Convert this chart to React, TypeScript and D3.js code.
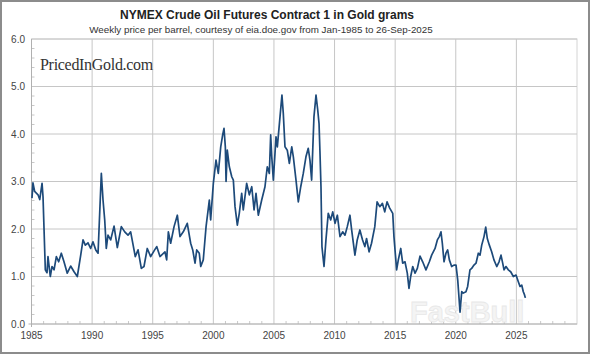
import React from "react";
import * as d3 from "d3";

const W = 590;
const H = 354;

const TITLE = "NYMEX Crude Oil Futures Contract 1 in Gold grams";
const SUBTITLE = "Weekly price per barrel, courtesy of eia.doe.gov from Jan-1985 to 26-Sep-2025";

const xTickYears = [1985, 1990, 1995, 2000, 2005, 2010, 2015, 2020, 2025];
const yTickValues = [0, 1, 2, 3, 4, 5, 6];

// decimal year
const dates = [
  1985.04, 1985.12, 1985.26, 1985.54, 1985.68, 1985.87, 1985.95, 1986.14, 1986.28, 1986.36,
  1986.55, 1986.69, 1986.86, 1987.05, 1987.24, 1987.46, 1987.68, 1987.95, 1988.23, 1988.51,
  1988.78, 1989.06, 1989.25, 1989.44, 1989.66, 1989.88, 1990.07, 1990.30, 1990.49, 1990.76,
  1990.90, 1991.04, 1991.17, 1991.31, 1991.53, 1991.81, 1992.08, 1992.41, 1992.69, 1992.96,
  1993.18, 1993.56, 1993.79, 1994.06, 1994.28, 1994.55, 1994.83, 1995.16, 1995.33, 1995.60,
  1996.01, 1996.15, 1996.29, 1996.48, 1996.76, 1997.03, 1997.25, 1997.52, 1997.85, 1998.13,
  1998.30, 1998.49, 1998.63, 1998.84, 1998.96, 1999.17, 1999.40, 1999.67, 1999.78, 2000.00,
  2000.22, 2000.41, 2000.61, 2000.77, 2000.88, 2000.99, 2001.05, 2001.15, 2001.32, 2001.52,
  2001.65, 2001.79, 2001.98, 2002.14, 2002.34, 2002.47, 2002.75, 2002.97, 2003.17, 2003.36,
  2003.52, 2003.71, 2003.99, 2004.26, 2004.45, 2004.62, 2004.73, 2004.82, 2004.95, 2005.17,
  2005.28, 2005.50, 2005.66, 2005.77, 2005.91, 2006.10, 2006.27, 2006.47, 2006.60, 2006.82,
  2007.01, 2007.21, 2007.42, 2007.64, 2007.83, 2007.97, 2008.11, 2008.30, 2008.47, 2008.61,
  2008.72, 2008.80, 2008.88, 2008.96, 2009.13, 2009.29, 2009.48, 2009.68, 2009.85, 2010.04,
  2010.23, 2010.45, 2010.67, 2010.86, 2011.05, 2011.27, 2011.41, 2011.68, 2011.87, 2012.09,
  2012.31, 2012.50, 2012.64, 2012.85, 2013.05, 2013.32, 2013.51, 2013.73, 2013.95, 2014.14,
  2014.33, 2014.55, 2014.80, 2014.90, 2015.12, 2015.26, 2015.46, 2015.62, 2015.81, 2016.00,
  2016.14, 2016.28, 2016.45, 2016.64, 2016.83, 2017.05, 2017.27, 2017.54, 2017.82, 2018.01,
  2018.29, 2018.48, 2018.64, 2018.78, 2018.89, 2019.03, 2019.19, 2019.33, 2019.47, 2019.66,
  2019.85, 2020.02, 2020.16, 2020.27, 2020.35, 2020.49, 2020.62, 2020.84, 2020.98, 2021.17,
  2021.31, 2021.50, 2021.67, 2021.86, 2022.00, 2022.14, 2022.33, 2022.47, 2022.60, 2022.77,
  2022.96, 2023.15, 2023.38, 2023.57, 2023.73, 2023.87, 2023.98, 2024.14, 2024.33, 2024.53,
  2024.75, 2024.97, 2025.16, 2025.30, 2025.44, 2025.57, 2025.65, 2025.74,
];

// grams of gold per barrel
const prices = [
  2.65, 2.97, 2.79, 2.72, 2.62, 2.96, 2.68, 1.14, 1.08, 1.42,
  1.00, 1.21, 1.14, 1.42, 1.31, 1.49, 1.31, 1.07, 1.22, 1.10,
  1.00, 1.45, 1.77, 1.66, 1.71, 1.59, 1.73, 1.56, 1.49, 3.17,
  2.61, 2.19, 1.59, 1.87, 1.77, 2.06, 1.61, 2.05, 1.94, 1.87,
  1.94, 1.42, 1.56, 1.17, 1.21, 1.59, 1.42, 1.56, 1.63, 1.42,
  1.52, 1.35, 1.94, 1.70, 2.05, 2.29, 1.84, 1.94, 2.12, 1.70,
  1.56, 1.28, 1.56, 1.49, 1.21, 1.35, 2.05, 2.61, 2.19, 2.96,
  3.45, 3.17, 3.73, 3.98, 4.12, 3.73, 3.00, 3.66, 3.31, 3.10,
  3.03, 2.47, 2.08, 2.33, 2.75, 2.40, 2.96, 2.72, 2.89, 2.40,
  2.75, 2.29, 2.61, 2.89, 3.31, 3.17, 3.98, 3.52, 3.03, 3.94,
  3.73, 4.36, 4.82, 4.44, 3.73, 3.66, 3.38, 3.73, 3.52, 3.03,
  2.57, 2.89, 3.17, 3.52, 3.70, 3.45, 3.03, 4.36, 4.82, 4.51,
  4.22, 3.59, 2.89, 1.63, 1.21, 1.77, 2.33, 2.19, 2.36, 2.12,
  2.29, 1.84, 1.94, 1.87, 2.05, 2.29, 1.98, 1.45, 1.77, 1.98,
  1.77, 1.63, 1.80, 1.52, 1.70, 2.05, 2.57, 2.47, 2.54, 2.36,
  2.57, 2.44, 2.33, 1.84, 1.14, 1.35, 1.59, 1.28, 1.31, 1.07,
  0.75, 1.00, 1.21, 1.07, 1.17, 1.43, 1.31, 1.14, 1.31, 1.45,
  1.59, 1.77, 1.84, 1.94, 1.70, 1.31, 1.49, 1.56, 1.35, 1.21,
  1.24, 1.24, 0.93, 0.54, 0.25, 0.68, 0.65, 0.68, 0.79, 1.14,
  1.17, 1.24, 1.28, 1.49, 1.45, 1.66, 1.84, 2.04, 1.80, 1.66,
  1.52, 1.35, 1.21, 1.31, 1.45, 1.28, 1.14, 1.21, 1.14, 1.10,
  1.00, 1.03, 0.89, 0.79, 0.82, 0.68, 0.63, 0.55,
];

const M = { left: 31.5, right: 577, top: 39, bottom: 324 };

export default function App() {
  const x = d3.scaleLinear().domain([1985, 2030]).range([M.left, M.right]);
  const y = d3.scaleLinear().domain([0, 6]).range([M.bottom, M.top]);

  const pts: [number, number][] = dates.map((d, i) => [d, prices[i]]);
  const line = d3
    .line<[number, number]>()
    .x((d) => x(d[0]))
    .y((d) => y(d[1]))
    .curve(d3.curveLinear);

  const minorY = d3.range(0, 6.001, 0.2).filter((v) => Math.abs(v - Math.round(v)) > 0.01);
  const minorX = d3.range(1986, 2030, 1).filter((v) => v % 5 !== 0);

  return (
    <svg
      width={W}
      height={H}
      style={{ position: "absolute", left: 0, top: 0, background: "#fff" }}
      fontFamily="'Liberation Sans', Arial, sans-serif"
    >
      <rect x={0} y={0} width={W} height={H} fill="#fff" />
      {/* plot area */}
      <rect x={M.left} y={M.top} width={M.right - M.left} height={M.bottom - M.top} fill="#fff" stroke="#d4d4d4" strokeWidth={1} />
      {/* grid */}
      {yTickValues.slice(1).map((v) => (
        <line key={"gy" + v} x1={M.left} x2={M.right} y1={y(v)} y2={y(v)} stroke="#c6c6c6" strokeWidth={1} />
      ))}
      {xTickYears.slice(1).map((v) => (
        <line key={"gx" + v} x1={x(v)} x2={x(v)} y1={M.top} y2={M.bottom} stroke="#c6c6c6" strokeWidth={1} />
      ))}
      {/* minor ticks */}
      {minorY.map((v) => (
        <line key={"my" + v} x1={M.left} x2={M.left + 3} y1={y(v)} y2={y(v)} stroke="#c8c8c8" strokeWidth={1} />
      ))}
      {minorX.map((v) => (
        <line key={"mx" + v} x1={x(v)} x2={x(v)} y1={M.bottom} y2={M.bottom - 3} stroke="#c8c8c8" strokeWidth={1} />
      ))}
      {/* axes */}
      <line x1={M.left} x2={M.left} y1={M.top} y2={M.bottom + 3} stroke="#b0b0b0" strokeWidth={1} />
      <line x1={M.left - 3} x2={M.right} y1={M.bottom} y2={M.bottom} stroke="#b0b0b0" strokeWidth={1} />
      {yTickValues.map((v) => (
        <text key={"yl" + v} x={25} y={y(v) + 3.5} textAnchor="end" fontSize={10} fill="#444">
          {v.toFixed(1)}
        </text>
      ))}
      {xTickYears.map((v) => (
        <text key={"xl" + v} x={x(v)} y={339} textAnchor="middle" fontSize={10} fill="#444">
          {v}
        </text>
      ))}
      {/* watermarks */}
      <text x={40} y={70} fontSize={16} fill="#333" fontFamily="'Liberation Serif', 'DejaVu Serif', serif" letterSpacing={-0.3}>
        PricedInGold.com
      </text>
      <text x={410} y={322} fontSize={29} fontWeight="bold" fill="#f4f4f4" stroke="#e8e8e8" strokeWidth={0.8}>
        FastBull
      </text>
      {/* series */}
      <path d={line(pts) || ""} fill="none" stroke="#1d4a7a" strokeWidth={1.7} strokeLinejoin="round" />
      {/* titles */}
      <text x={267} y={19} textAnchor="middle" fontSize={12} fontWeight="bold" fill="#222">
        {TITLE}
      </text>
      <text x={261} y={33} textAnchor="middle" fontSize={9.8} fill="#333">
        {SUBTITLE}
      </text>
      {/* outer frame */}
      <rect x={1} y={1} width={W - 2} height={H - 2} fill="none" stroke="#8c8c8c" strokeWidth={2} />
    </svg>
  );
}
